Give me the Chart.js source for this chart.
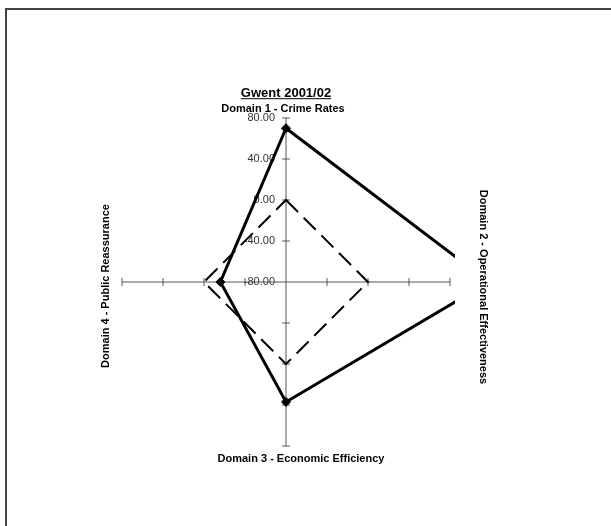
<!DOCTYPE html>
<html>
<head>
<meta charset="utf-8">
<script src="https://cdn.jsdelivr.net/npm/chart.js@4.4.1/dist/chart.umd.min.js"></script>
<style>
html,body{margin:0;padding:0;background:#fff;overflow:hidden;}
canvas{display:block;}
</style>
</head>
<body>
<canvas id="c" width="611" height="526"></canvas>
<script>
// ---- data ----
const chartTitle = 'Gwent 2001/02';
const categories = [
  'Domain 1 - Crime Rates',
  'Domain 2 - Operational Effectiveness',
  'Domain 3 - Economic Efficiency',
  'Domain 4 - Public Reassurance'
];
const gwentValues = [70, 118, 37, -16];
const baselineValues = [0, 0, 0, 0];
const tickValues = [-80, -40, 0, 40, 80];
const tickLabels = ['-80.00', '-40.00', '0.00', '40.00', '80.00'];

const FONT = 'Arial, "Liberation Sans", sans-serif';

const radarDecor = {
  id: 'radarDecor',
  beforeDraw(chart) {
    const ctx = chart.ctx;
    ctx.save();
    ctx.fillStyle = '#fff';
    ctx.fillRect(0, 0, chart.width, chart.height);
    ctx.fillStyle = '#444';
    ctx.fillRect(5, 8, chart.width - 5, 2);
    ctx.fillRect(5, 8, 2, chart.height - 8);
    ctx.restore();
  },
  beforeDatasetsDraw(chart) {
    const ctx = chart.ctx;
    const s = chart.scales.r;
    ctx.save();
    ctx.strokeStyle = '#555';
    ctx.lineWidth = 1;
    for (let i = 0; i < categories.length; i++) {
      const ang = s.getIndexAngle(i) - Math.PI / 2;
      const px = -Math.sin(ang), py = Math.cos(ang);
      tickValues.forEach(v => {
        if (v === s.min) return;
        const p = s.getPointPositionForValue(i, v);
        ctx.beginPath();
        ctx.moveTo(p.x - px * 4, p.y - py * 4);
        ctx.lineTo(p.x + px * 4, p.y + py * 4);
        ctx.stroke();
      });
    }
    ctx.fillStyle = '#333';
    ctx.font = '11px ' + FONT;
    ctx.textAlign = 'right';
    ctx.textBaseline = 'middle';
    tickValues.forEach((v, k) => {
      const p = s.getPointPositionForValue(0, v);
      ctx.fillText(tickLabels[k], p.x - 11, p.y);
    });
    ctx.restore();
    const a = chart.chartArea;
    ctx.save();
    ctx.beginPath();
    ctx.rect(a.left - 5, a.top - 5, a.right - a.left + 10, a.bottom - a.top + 10);
    ctx.clip();
  },
  afterDatasetsDraw(chart) {
    chart.ctx.restore();
  },
  afterDraw(chart) {
    const ctx = chart.ctx;
    const s = chart.scales.r;
    const R = s.drawingArea;
    const place = [
      {dx: -3, dy: -9, rot: 0},
      {dx: 33, dy: 5, rot: Math.PI / 2},
      {dx: 15, dy: 13, rot: 0},
      {dx: -16, dy: 4, rot: -Math.PI / 2}
    ];
    ctx.save();
    ctx.fillStyle = '#000';
    ctx.font = 'bold 11px ' + FONT;
    ctx.textAlign = 'center';
    ctx.textBaseline = 'middle';
    categories.forEach((lab, i) => {
      const p = s.getPointPosition(i, R);
      ctx.save();
      ctx.translate(p.x + place[i].dx, p.y + place[i].dy);
      ctx.rotate(place[i].rot);
      ctx.fillText(lab, 0, 0);
      ctx.restore();
    });
    const tb = chart.titleBlock;
    if (tb) {
      ctx.font = 'bold 13px ' + FONT;
      const w = ctx.measureText(chartTitle).width;
      const cx = (tb.left + tb.right) / 2;
      const y = tb.top + tb._padding.top + 15.6 / 2 + 5;
      ctx.strokeStyle = '#000';
      ctx.lineWidth = 1;
      ctx.beginPath();
      ctx.moveTo(cx - w / 2, y + 0.5);
      ctx.lineTo(cx + w / 2, y + 0.5);
      ctx.stroke();
    }
    ctx.restore();
  }
};

new Chart(document.getElementById('c'), {
  type: 'radar',
  data: {
    labels: categories,
    datasets: [
      {
        label: 'Gwent',
        data: gwentValues,
        borderColor: '#000',
        borderWidth: 3,
        fill: false,
        tension: 0,
        pointStyle: 'rectRot',
        pointRadius: 4.5,
        pointBackgroundColor: '#000',
        pointBorderColor: '#000',
        pointBorderWidth: 1
      },
      {
        label: 'Average',
        data: baselineValues,
        borderColor: '#000',
        borderWidth: 2,
        borderDash: [17, 8],
        fill: false,
        tension: 0,
        pointRadius: 0
      }
    ]
  },
  options: {
    responsive: false,
    animation: false,
    devicePixelRatio: 1,
    layout: {padding: {left: 122, right: 161, top: 0, bottom: 80}},
    plugins: {
      legend: {display: false},
      tooltip: {enabled: false},
      title: {
        display: true,
        text: chartTitle,
        color: '#000',
        font: {family: FONT, size: 13, weight: 'bold', lineHeight: 1.2},
        padding: {top: 85.4, bottom: 17}
      }
    },
    scales: {
      r: {
        min: tickValues[0],
        max: tickValues[tickValues.length - 1],
        ticks: {display: false, stepSize: 40},
        grid: {display: false},
        angleLines: {display: true, color: '#555', lineWidth: 1},
        pointLabels: {display: false}
      }
    }
  },
  plugins: [radarDecor]
});
</script>
</body>
</html>
